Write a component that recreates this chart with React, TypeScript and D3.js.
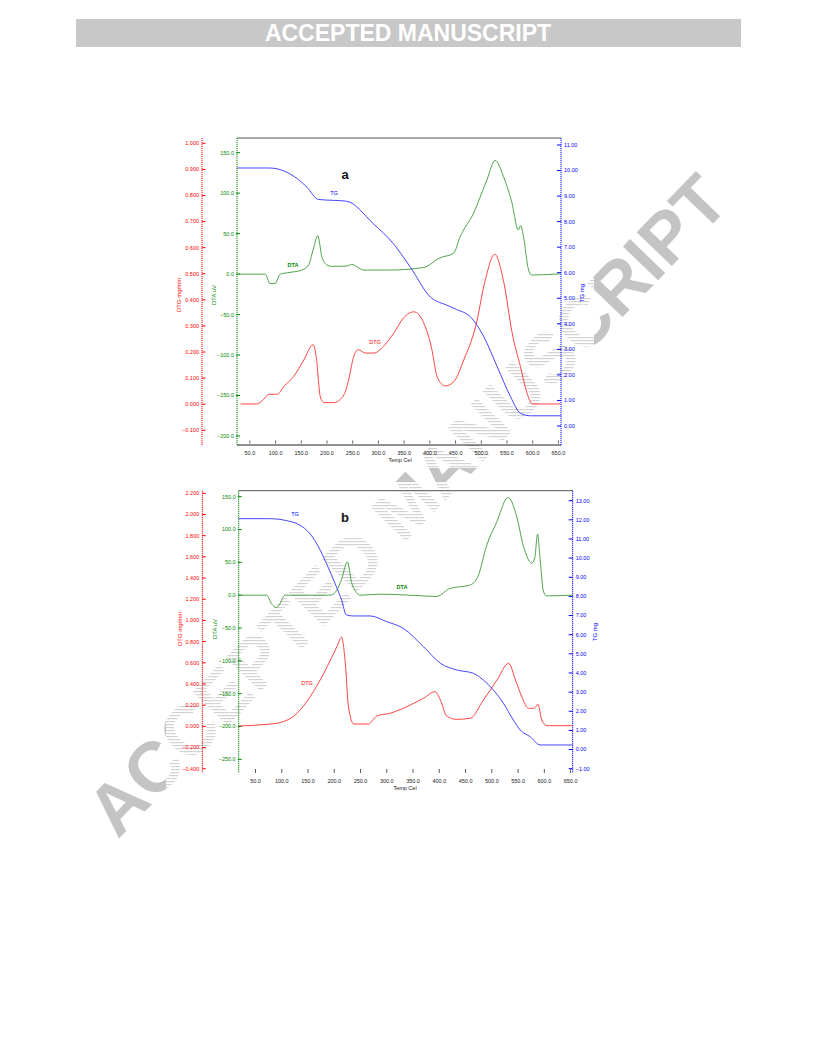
import React from "react";
import * as d3 from "d3";

// ---------- Panel a data ----------
const aTgTemp = [25, 89, 128, 161, 183, 238, 290, 329, 362, 401, 433, 452, 479, 505, 531, 557, 576, 596, 655];
const aTgVal = [10.1, 10.1, 9.87, 9.35, 8.87, 8.8, 7.92, 7.14, 6.22, 5.05, 4.73, 4.56, 4.27, 3.49, 2.32, 1.14, 0.5, 0.4, 0.4];
const aDtaTemp = [27, 50, 80, 89, 99, 109, 128, 151, 164, 173, 182, 190, 200, 209, 238, 248, 258, 271, 323, 388, 420, 446, 459, 485, 511, 527, 543, 559, 572, 577, 582, 592, 598, 655];
const aDtaVal = [0, 0, 0, -11.5, -11.5, 0, 2.1, 5, 11.2, 29.8, 47.5, 21.5, 11.2, 9.6, 9.9, 12, 9.1, 5, 5, 8.3, 20.2, 25.7, 46.3, 75.3, 116.6, 140.6, 120.7, 89.7, 54.6, 59.9, 46.3, 5, -1.2, 0.5];
const aDtgTemp = [32, 64, 77, 87, 103, 116, 135, 155, 173, 179, 187, 194, 213, 233, 242, 252, 260, 275, 291, 310, 330, 349, 369, 388, 404, 414, 430, 447, 466, 489, 508, 526, 544, 560, 576, 589, 599, 654];
const aDtgVal = [0.001, 0.001, 0.019, 0.038, 0.038, 0.068, 0.106, 0.17, 0.228, 0.183, 0.029, 0.006, 0.006, 0.036, 0.093, 0.183, 0.209, 0.196, 0.196, 0.222, 0.273, 0.331, 0.354, 0.312, 0.209, 0.106, 0.07, 0.087, 0.17, 0.298, 0.478, 0.575, 0.465, 0.273, 0.145, 0.042, 0.001, 0.001];

// ---------- Panel b data ----------
const bTgTemp = [18, 77, 109, 134, 153, 173, 185, 204, 214, 223, 236, 268, 300, 331, 370, 402, 433, 465, 484, 503, 522, 541, 554, 573, 592, 654];
const bTgVal = [12.06, 12.06, 11.96, 11.73, 11.3, 10.43, 9.73, 8.51, 7.81, 7.03, 6.98, 6.98, 6.68, 6.34, 5.37, 4.51, 4.16, 3.98, 3.63, 3.11, 2.42, 1.54, 1.02, 0.67, 0.24, 0.24];
const bDtaTemp = [18, 71, 81, 90, 96, 106, 192, 204, 214, 225, 233, 242, 249, 287, 363, 395, 420, 458, 474, 490, 509, 531, 547, 560, 576, 582, 587, 592, 598, 604, 654];
const bDtaVal = [0, 0, -13.7, -18.8, -13.7, 0, 0, 6.6, 24.4, 50.8, 19.4, 4.1, 0, 1.5, -0.8, -2, 10.2, 15.2, 29.4, 75.2, 110.8, 148.9, 120.9, 75.2, 48.8, 57.5, 93, 54.9, 6.6, -1, 0];
const bDtgTemp = [18, 72, 91, 129, 154, 180, 205, 214, 221, 227, 237, 265, 281, 306, 345, 370, 392, 402, 414, 433, 459, 484, 510, 532, 545, 557, 570, 580, 588, 595, 605, 654];
const bDtgVal = [0.003, 0.019, 0.029, 0.123, 0.28, 0.501, 0.752, 0.841, 0.595, 0.185, 0.022, 0.022, 0.098, 0.123, 0.202, 0.265, 0.327, 0.249, 0.098, 0.066, 0.076, 0.249, 0.438, 0.595, 0.438, 0.28, 0.17, 0.17, 0.208, 0.06, 0.006, 0.006];

// ---------- Tick values ----------
const xTicks = [50, 100, 150, 200, 250, 300, 350, 400, 450, 500, 550, 600, 650];
const aRedTicks = [1.0, 0.9, 0.8, 0.7, 0.6, 0.5, 0.4, 0.3, 0.2, 0.1, 0.0, -0.1];
const aGreenTicks = [150, 100, 50, 0, -50, -100, -150, -200];
const aBlueTicks = [11, 10, 9, 8, 7, 6, 5, 4, 3, 2, 1, 0];
const bRedTicks = [2.2, 2.0, 1.8, 1.6, 1.4, 1.2, 1.0, 0.8, 0.6, 0.4, 0.2, 0.0, -0.2, -0.4];
const bGreenTicks = [150, 100, 50, 0, -50, -100, -150, -200, -250];
const bBlueTicks = [13, 12, 11, 10, 9, 8, 7, 6, 5, 4, 3, 2, 1, 0, -1];

const FONT = "'Liberation Sans', Arial, sans-serif";
const RED = "#ff0000";
const GREEN = "#008800";
const BLUE = "#0000ff";

type Cfg = {
  letter: string;
  xDomain: [number, number];
  greenX: number;
  blueX: number;
  redX: number;
  top: number;
  axisBottom: number;
  redDomain: [number, number];
  redRange: [number, number];
  greenDomain: [number, number];
  greenRange: [number, number];
  blueDomain: [number, number];
  blueRange: [number, number];
  redTicks: number[];
  greenTicks: number[];
  blueTicks: number[];
  tg: [number[], number[]];
  dta: [number[], number[]];
  dtg: [number[], number[]];
  bottomLine: boolean;
  xTickY: [number, number];
  xLabelY: number;
  xTitle: [number, number];
  redTitle: [number, number];
  greenTitle: [number, number];
  blueTitle: [number, number];
  letterPos: [number, number];
  tgLabel: [number, number];
  dtaLabel: [number, number];
  dtgLabel: [number, number];
};

const cfgA: Cfg = {
  letter: "a",
  xDomain: [25, 655],
  greenX: 237,
  blueX: 561,
  redX: 202,
  top: 138,
  axisBottom: 446,
  redDomain: [-0.1, 1.0],
  redRange: [430.3, 143.3],
  greenDomain: [-200, 150],
  greenRange: [436, 152.7],
  blueDomain: [0, 11],
  blueRange: [426, 145],
  redTicks: aRedTicks,
  greenTicks: aGreenTicks,
  blueTicks: aBlueTicks,
  tg: [aTgTemp, aTgVal],
  dta: [aDtaTemp, aDtaVal],
  dtg: [aDtgTemp, aDtgVal],
  bottomLine: true,
  xTickY: [440.5, 443.5],
  xLabelY: 453,
  xTitle: [400, 460],
  redTitle: [181, 295],
  greenTitle: [216, 295],
  blueTitle: [584, 293],
  letterPos: [345, 179],
  tgLabel: [334, 195],
  dtaLabel: [293, 267],
  dtgLabel: [375, 344],
};

const cfgB: Cfg = {
  letter: "b",
  xDomain: [18, 654],
  greenX: 238.7,
  blueX: 572.7,
  redX: 202.3,
  top: 490.7,
  axisBottom: 773,
  redDomain: [-0.4, 2.2],
  redRange: [768.7, 493.3],
  greenDomain: [-250, 150],
  greenRange: [759.3, 496.7],
  blueDomain: [-1, 13],
  blueRange: [768.7, 500.7],
  redTicks: bRedTicks,
  greenTicks: bGreenTicks,
  blueTicks: bBlueTicks,
  tg: [bTgTemp, bTgVal],
  dta: [bDtaTemp, bDtaVal],
  dtg: [bDtgTemp, bDtgVal],
  bottomLine: false,
  xTickY: [769, 773],
  xLabelY: 781,
  xTitle: [405, 788],
  redTitle: [182, 629],
  greenTitle: [217, 629],
  blueTitle: [597, 632],
  letterPos: [345, 522],
  tgLabel: [295, 516],
  dtaLabel: [402, 589],
  dtgLabel: [307, 685],
};

function Panel({ c }: { c: Cfg }) {
  const x = d3.scaleLinear().domain(c.xDomain).range([c.greenX, c.blueX]);
  const yR = d3.scaleLinear().domain(c.redDomain).range(c.redRange);
  const yG = d3.scaleLinear().domain(c.greenDomain).range(c.greenRange);
  const yB = d3.scaleLinear().domain(c.blueDomain).range(c.blueRange);

  const mk = (ys: d3.ScaleLinear<number, number>, s: [number[], number[]]) => {
    const pts = s[0].map((t, i) => [t, s[1][i]] as [number, number]);
    return d3
      .line<[number, number]>()
      .x((d) => x(d[0]))
      .y((d) => ys(d[1]))
      .curve(d3.curveMonotoneX)(pts) as string;
  };

  const fs = 5.5;
  const axisDash = "1.2 0.8";
  return (
    <g fontFamily={FONT}>
      <line x1={c.greenX} x2={c.blueX} y1={c.top} y2={c.top} stroke="#555" strokeWidth={1} />
      {c.bottomLine && (
        <line x1={c.greenX} x2={c.blueX} y1={c.axisBottom - 1} y2={c.axisBottom - 1} stroke="#222" strokeWidth={1} />
      )}

      <line x1={c.redX} x2={c.redX} y1={c.top} y2={c.axisBottom} stroke={RED} strokeWidth={1} strokeDasharray={axisDash} />
      {c.redTicks.map((t) => (
        <g key={"r" + t}>
          <line x1={c.redX} x2={c.redX + 3.5} y1={yR(t)} y2={yR(t)} stroke={RED} strokeWidth={1} />
          <text x={c.redX - 3} y={yR(t)} dy="0.35em" textAnchor="end" fontSize={fs} fill={RED}>
            {d3.format(".3f")(t)}
          </text>
        </g>
      ))}
      <text transform={`translate(${c.redTitle[0]},${c.redTitle[1]}) rotate(-90)`} textAnchor="middle" fontSize={6} fill={RED}>
        DTG mg/min
      </text>

      <line x1={c.greenX} x2={c.greenX} y1={c.top} y2={c.axisBottom} stroke={GREEN} strokeWidth={1} strokeDasharray={axisDash} />
      {c.greenTicks.map((t) => (
        <g key={"g" + t}>
          <line x1={c.greenX - 1} x2={c.greenX + 3} y1={yG(t)} y2={yG(t)} stroke={GREEN} strokeWidth={1} />
          <text x={c.greenX - 3} y={yG(t)} dy="0.35em" textAnchor="end" fontSize={fs} fill={GREEN}>
            {d3.format(".1f")(t)}
          </text>
        </g>
      ))}
      <text transform={`translate(${c.greenTitle[0]},${c.greenTitle[1]}) rotate(-90)`} textAnchor="middle" fontSize={6} fill={GREEN}>
        DTA uV
      </text>

      <line x1={c.blueX} x2={c.blueX} y1={c.top} y2={c.axisBottom} stroke={BLUE} strokeWidth={1} strokeDasharray={axisDash} />
      {c.blueTicks.map((t) => (
        <g key={"b" + t}>
          <line x1={c.blueX - 4} x2={c.blueX} y1={yB(t)} y2={yB(t)} stroke={BLUE} strokeWidth={1} />
          <text x={c.blueX + 3} y={yB(t)} dy="0.35em" textAnchor="start" fontSize={fs} fill={BLUE}>
            {d3.format(".2f")(t)}
          </text>
        </g>
      ))}
      <text transform={`translate(${c.blueTitle[0]},${c.blueTitle[1]}) rotate(-90)`} textAnchor="middle" fontSize={6} fill={BLUE}>
        TG mg
      </text>

      {xTicks.map((t) => (
        <g key={"x" + t}>
          <line x1={x(t)} x2={x(t)} y1={c.xTickY[0]} y2={c.xTickY[1]} stroke="#333" strokeWidth={0.8} />
          <text x={x(t)} y={c.xLabelY} dy="0.35em" textAnchor="middle" fontSize={fs} fill="#222">
            {d3.format(".1f")(t)}
          </text>
        </g>
      ))}
      <text x={c.xTitle[0]} y={c.xTitle[1]} dy="0.35em" textAnchor="middle" fontSize={5.5} fill="#222">
        Temp Cel
      </text>

      <path d={mk(yG, c.dta)} fill="none" stroke="#3a9a3a" strokeWidth={0.9} />
      <path d={mk(yR, c.dtg)} fill="none" stroke="#ff3030" strokeWidth={0.9} />
      <path d={mk(yB, c.tg)} fill="none" stroke="#3030ff" strokeWidth={0.9} />

      <text x={c.tgLabel[0]} y={c.tgLabel[1]} textAnchor="middle" fontSize={5.5} fill={BLUE}>
        TG
      </text>
      <text x={c.dtaLabel[0]} y={c.dtaLabel[1]} textAnchor="middle" fontSize={5.5} fill={GREEN} fontWeight="bold">
        DTA
      </text>
      <text x={c.dtgLabel[0]} y={c.dtgLabel[1]} textAnchor="middle" fontSize={5.5} fill={RED}>
        DTG
      </text>
      <text x={c.letterPos[0]} y={c.letterPos[1]} textAnchor="middle" fontSize={13} fontWeight="bold" fill="#111">
        {c.letter}
      </text>
    </g>
  );
}

const chartRects = [
  { x: 166, y: 128, w: 428, h: 340 },
  { x: 166, y: 482, w: 446, h: 308 },
];

const WM_ANGLE = -46;

export default function App() {
  const wmText = (fill: string) => (
    <text
      transform={`translate(407,505) rotate(${WM_ANGLE})`}
      textAnchor="middle"
      dominantBaseline="central"
      fontFamily={FONT}
      fontWeight="bold"
      fontSize={71}
      fill={fill}
    >
      ACCEPTED MANUSCRIPT
    </text>
  );
  return (
    <svg width={816} height={1056} viewBox="0 0 816 1056" style={{ position: "absolute", left: 0, top: 0, background: "#fff" }}>
      <defs>
        <pattern id="hatch" width={4} height={3} patternUnits="userSpaceOnUse" patternTransform={`rotate(${-WM_ANGLE})`}>
          <rect x={0} y={0} width={4} height={1.2} fill="#d2d2d2" />
        </pattern>
        <mask id="outside" maskUnits="userSpaceOnUse" x={0} y={0} width={816} height={1056}>
          <rect x={0} y={0} width={816} height={1056} fill="#fff" />
          {chartRects.map((r, i) => (
            <rect key={i} x={r.x} y={r.y} width={r.w} height={r.h} fill="#000" />
          ))}
        </mask>
        <clipPath id="inside">
          {chartRects.map((r, i) => (
            <rect key={i} x={r.x} y={r.y} width={r.w} height={r.h} />
          ))}
        </clipPath>
      </defs>

      <rect x={76} y={19} width={665} height={28} fill="#c8c8c8" />
      <text x={408} y={41} textAnchor="middle" fontFamily={FONT} fontWeight="bold" fontSize={23} fill="#fff">
        ACCEPTED MANUSCRIPT
      </text>

      <g clipPath="url(#inside)">{wmText("url(#hatch)")}</g>

      <Panel c={cfgA} />
      <Panel c={cfgB} />

      <g mask="url(#outside)">{wmText("#c4c4c4")}</g>
    </svg>
  );
}
